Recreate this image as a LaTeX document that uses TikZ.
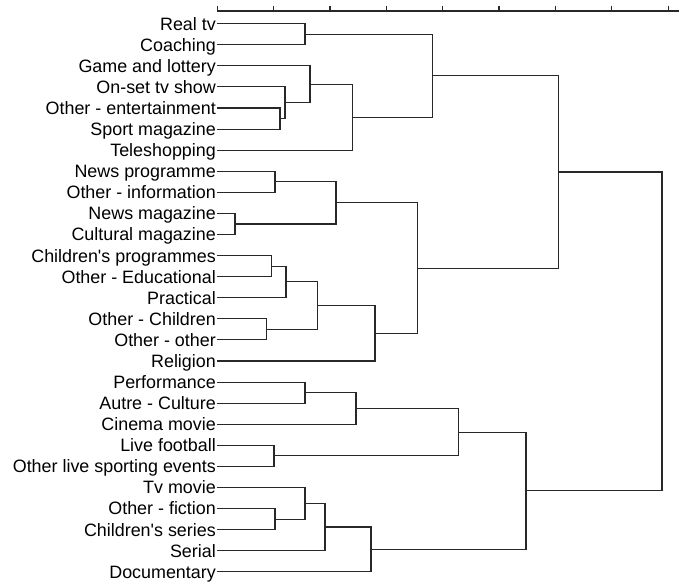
\documentclass[tikz,border=0pt]{standalone}
\usepackage{fontspec}
\setmainfont{Liberation Sans}
\definecolor{treegray}{RGB}{40,40,40}

\begin{document}
\begin{tikzpicture}[x=1pt,y=-1pt,
    leaf/.style={anchor=east,inner xsep=1pt,inner ysep=0pt,text height=12.8pt,text depth=0pt,
                 font=\fontsize{17.9pt}{21pt}\selectfont},
    link/.style={treegray,line width=1.1pt},
    axis/.style={treegray,line width=1.2pt}]
    \useasboundingbox (0,0) rectangle (679,584);

    % Scale
    \draw[axis] (217,11) -- (679,11);
    \draw[axis] (217.3,5.5) -- (217.3,11) (273.7,5.5) -- (273.7,11) (330,5.5) -- (330,11)
        (386.4,5.5) -- (386.4,11) (442.7,5.5) -- (442.7,11) (499,5.5) -- (499,11)
        (555.4,5.5) -- (555.4,11) (611.8,5.5) -- (611.8,11) (668.1,5.5) -- (668.1,11);

    % Leaves
    \node[leaf] (realtv) at (217,23.7) {Real tv};
    \node[leaf] (coaching) at (217,44.8) {Coaching};
    \node[leaf] (game) at (217,65.9) {Game and lottery};
    \node[leaf] (onset) at (217,86.9) {On-set tv show};
    \node[leaf] (otherent) at (217,108.0) {Other - entertainment};
    \node[leaf] (sportmag) at (217,129.1) {Sport magazine};
    \node[leaf] (teleshop) at (217,150.2) {Teleshopping};
    \node[leaf] (newsprog) at (217,171.3) {News programme};
    \node[leaf] (otherinfo) at (217,192.3) {Other - information};
    \node[leaf] (newsmag) at (217,213.4) {News magazine};
    \node[leaf] (culturemag) at (217,234.5) {Cultural magazine};
    \node[leaf] (childprog) at (217,255.6) {Children\textquotesingle s programmes};
    \node[leaf] (otheredu) at (217,276.7) {Other - Educational};
    \node[leaf] (practical) at (217,297.7) {Practical};
    \node[leaf] (otherchild) at (217,318.8) {Other - Children};
    \node[leaf] (otherother) at (217,339.9) {Other - other};
    \node[leaf] (religion) at (217,361.0) {Religion};
    \node[leaf] (performance) at (217,382.1) {Performance};
    \node[leaf] (autreculture) at (217,403.2) {Autre - Culture};
    \node[leaf] (cinema) at (217,424.2) {Cinema movie};
    \node[leaf] (football) at (217,445.3) {Live football};
    \node[leaf] (otherlive) at (217,466.4) {Other live sporting events};
    \node[leaf] (tvmovie) at (217,487.5) {Tv movie};
    \node[leaf] (otherfiction) at (217,508.5) {Other - fiction};
    \node[leaf] (childseries) at (217,529.6) {Children\textquotesingle s series};
    \node[leaf] (serial) at (217,550.7) {Serial};
    \node[leaf] (documentary) at (217,571.8) {Documentary};

    % Joins
    \coordinate (j1) at (305,34.3);
    \coordinate (j2) at (280,118.6);
    \coordinate (j3) at (285,102.7);
    \coordinate (j4) at (310,84.3);
    \coordinate (j5) at (352.3,117.3);
    \coordinate (j6) at (432.3,75.8);
    \coordinate (j7) at (275,181.8);
    \coordinate (j8) at (235,224.0);
    \coordinate (j9) at (336,202.9);
    \coordinate (j10) at (271.7,266.2);
    \coordinate (j11) at (286,281.9);
    \coordinate (j12) at (266.7,329.4);
    \coordinate (j13) at (317.3,305.6);
    \coordinate (j14) at (375,333.3);
    \coordinate (j15) at (417.3,268.1);
    \coordinate (j16) at (558.3,172.0);
    \coordinate (j17) at (305,392.7);
    \coordinate (j18) at (356,408.4);
    \coordinate (j19) at (274,455.9);
    \coordinate (j20) at (458.7,432.2);
    \coordinate (j21) at (275,519.1);
    \coordinate (j22) at (305,503.3);
    \coordinate (j23) at (325,527.0);
    \coordinate (j24) at (371,549.4);
    \coordinate (j25) at (526,490.8);
    \coordinate (j26) at (662,331.4);

    % Entertainment branch
    \draw[link] (realtv.east) -| (j1) |- (coaching.east);
    \draw[link] (otherent.east) -| (j2) |- (sportmag.east);
    \draw[link] (onset.east) -| (j3) |- (j2);
    \draw[link] (game.east) -| (j4) |- (j3);
    \draw[link] (j4) -| (j5) |- (teleshop.east);
    \draw[link] (j1) -| (j6) |- (j5);

    % Information branch
    \draw[link] (newsprog.east) -| (j7) |- (otherinfo.east);
    \draw[link] (newsmag.east) -| (j8) |- (culturemag.east);
    \draw[link] (j7) -| (j9) |- (j8);
    \draw[link] (childprog.east) -| (j10) |- (otheredu.east);
    \draw[link] (j10) -| (j11) |- (practical.east);
    \draw[link] (otherchild.east) -| (j12) |- (otherother.east);
    \draw[link] (j11) -| (j13) |- (j12);
    \draw[link] (j13) -| (j14) |- (religion.east);
    \draw[link] (j9) -| (j15) |- (j14);
    \draw[link] (j6) -| (j16) |- (j15);

    % Culture and fiction branch
    \draw[link] (performance.east) -| (j17) |- (autreculture.east);
    \draw[link] (j17) -| (j18) |- (cinema.east);
    \draw[link] (football.east) -| (j19) |- (otherlive.east);
    \draw[link] (j18) -| (j20) |- (j19);
    \draw[link] (otherfiction.east) -| (j21) |- (childseries.east);
    \draw[link] (tvmovie.east) -| (j22) |- (j21);
    \draw[link] (j22) -| (j23) |- (serial.east);
    \draw[link] (j23) -| (j24) |- (documentary.east);
    \draw[link] (j20) -| (j25) |- (j24);

    % Root
    \draw[link] (j16) -| (j26) |- (j25);
\end{tikzpicture}
\end{document}
